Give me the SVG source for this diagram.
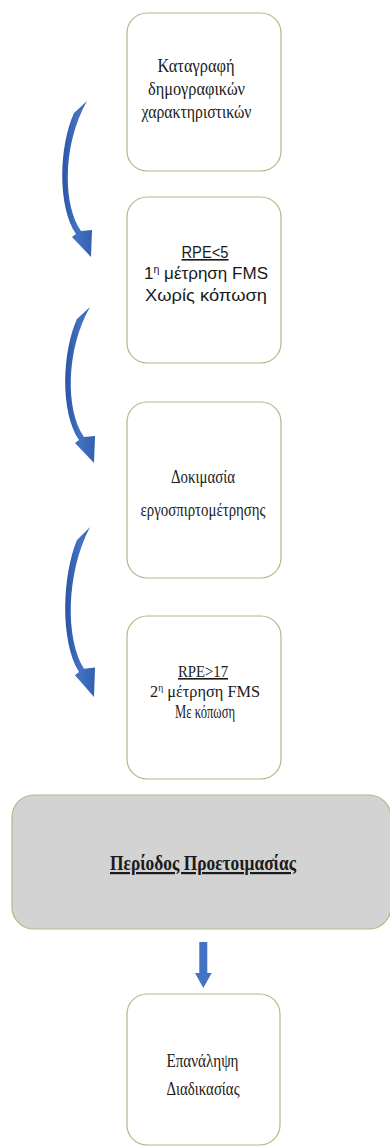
<svg xmlns="http://www.w3.org/2000/svg" width="390" height="1147" viewBox="0 0 390 1147">
<style>
.box{fill:#ffffff;stroke:#a8bd86;stroke-width:1.2}
.big{fill:#d3d3d3;stroke:#a8bd86;stroke-width:1.2}
.serif{font-family:"Liberation Serif","DejaVu Serif","Times New Roman",serif;fill:#1a1a1a;text-anchor:middle}
.sans{font-family:"Liberation Sans","DejaVu Sans",Arial,sans-serif;fill:#1a1a1a;text-anchor:middle}
.u{text-decoration:underline}
.carrow{fill:url(#blueGrad)}
.darrow{fill:#4472c4}
</style>
<defs>
<linearGradient id="blueGrad" x1="0" y1="0" x2="1" y2="0">
<stop offset="0" stop-color="#2c55a3"/>
<stop offset="0.5" stop-color="#4372c4"/>
<stop offset="1" stop-color="#3360ae"/>
</linearGradient>
<path id="curve" d="M 87 0 L 74 12 C 59 45, 57 105, 76 133 L 72 136 L 91 156 L 92 129 L 81 130 C 62 103, 63 42, 87 0 Z"/>
</defs>
<rect width="390" height="1147" fill="#ffffff"/>

<g id="connectors">
<use href="#curve" class="carrow" transform="translate(0,101)"/>
<use href="#curve" class="carrow" transform="translate(3,307)"/>
<use href="#curve" class="carrow" transform="translate(3,527) scale(1,1.09)"/>
<path class="darrow" d="M 199.3 942 L 207.3 942 L 207.3 973 L 211.7 973 L 203.3 988 L 195 973 L 199.3 973 Z"/>
</g>

<g id="node1">
<rect class="box" x="127" y="13" width="154" height="158" rx="20"/>
<text class="serif" font-size="18" x="196" y="72" textLength="77" lengthAdjust="spacingAndGlyphs">Καταγραφή</text>
<text class="serif" font-size="18" x="196.5" y="95" textLength="97" lengthAdjust="spacingAndGlyphs">δημογραφικών</text>
<text class="serif" font-size="18" x="196.5" y="118" textLength="110" lengthAdjust="spacingAndGlyphs">χαρακτηριστικών</text>
</g>

<g id="node2">
<rect class="box" x="127" y="197" width="154" height="166" rx="20"/>
<text class="sans u" font-size="16" x="205" y="258" textLength="47" lengthAdjust="spacingAndGlyphs">RPE&lt;5</text>
<text class="sans" font-size="16" x="206" y="279" textLength="124" lengthAdjust="spacingAndGlyphs">1<tspan font-size="10" dy="-6">η</tspan><tspan dy="6"> μέτρηση FMS</tspan></text>
<text class="sans" font-size="16" x="206" y="301" textLength="122" lengthAdjust="spacingAndGlyphs">Χωρίς κόπωση</text>
</g>

<g id="node3">
<rect class="box" x="127" y="402" width="154" height="176" rx="20"/>
<text class="serif" font-size="19" x="203" y="483" textLength="64" lengthAdjust="spacingAndGlyphs">Δοκιμασία</text>
<text class="serif" font-size="19" x="203" y="516" textLength="125" lengthAdjust="spacingAndGlyphs">εργοσπιρτομέτρησης</text>
</g>

<g id="node4">
<rect class="box" x="127" y="616" width="154" height="163" rx="20"/>
<text class="serif u" font-size="16" x="203" y="677" textLength="50" lengthAdjust="spacingAndGlyphs">RPE&gt;17</text>
<text class="serif" font-size="17" x="205" y="697" textLength="110" lengthAdjust="spacingAndGlyphs">2<tspan font-size="10" dy="-6">η</tspan><tspan dy="6"> μέτρηση FMS</tspan></text>
<text class="serif" font-size="18" x="205" y="718" textLength="60" lengthAdjust="spacingAndGlyphs">Με κόπωση</text>
</g>

<g id="node5">
<rect class="big" x="12" y="795" width="379" height="134" rx="22"/>
<text class="serif u" font-size="22" font-weight="bold" x="203" y="870" textLength="186" lengthAdjust="spacingAndGlyphs">Περίοδος Προετοιμασίας</text>
</g>

<g id="node6">
<rect class="box" x="127" y="994" width="153" height="151" rx="20"/>
<text class="serif" font-size="19" x="202.5" y="1067" textLength="72" lengthAdjust="spacingAndGlyphs">Επανάληψη</text>
<text class="serif" font-size="19" x="203" y="1095" textLength="73" lengthAdjust="spacingAndGlyphs">Διαδικασίας</text>
</g>
</svg>
